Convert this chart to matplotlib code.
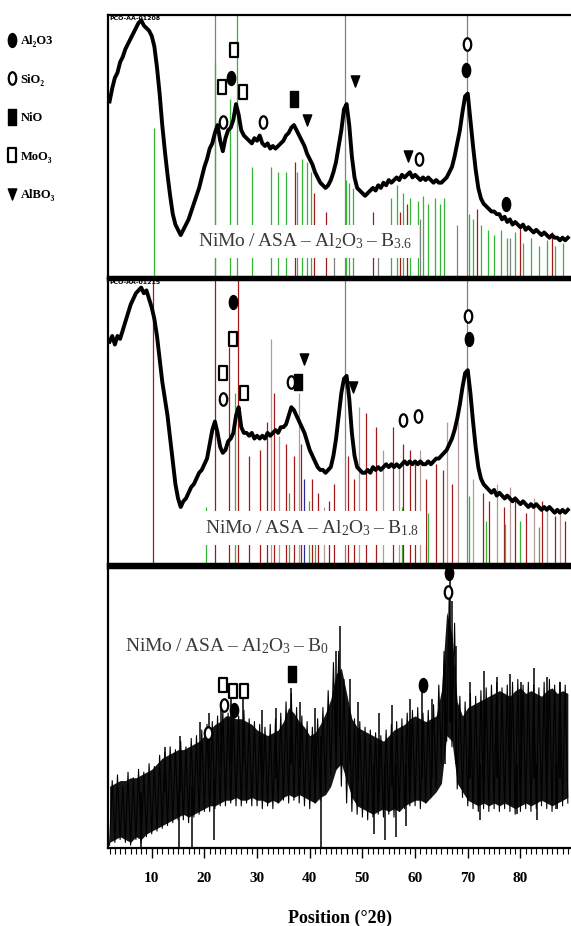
import numpy as np
import matplotlib
matplotlib.use("Agg")
import matplotlib.pyplot as plt
from matplotlib.path import Path
from matplotlib.transforms import Affine2D
from matplotlib.lines import Line2D
from matplotlib.ticker import MultipleLocator

plt.rcParams['mathtext.fontset'] = 'custom'
plt.rcParams['mathtext.rm'] = 'Liberation Serif'
plt.rcParams['mathtext.it'] = 'Liberation Serif:italic'
plt.rcParams['mathtext.bf'] = 'Liberation Serif:bold'

# ---------------- data ----------------
two_theta = np.arange(2.0, 89.01, 0.5)

intensity_b36 = [
    67, 72, 76, 78, 82, 84, 87, 89, 91, 93,
    95, 97, 98, 96, 95, 94, 92, 88, 80, 70,
    58, 48, 39, 31, 24, 20, 18, 16, 18, 20,
    22, 25, 28, 31, 34, 38, 42, 45, 49, 51,
    55, 58, 52, 48, 53, 56, 57, 60, 66, 62,
    56, 54, 53, 52, 51, 53, 52, 54, 51, 50,
    51, 49, 50, 49, 50, 51, 52, 54, 55, 57,
    58, 56, 54, 52, 50, 47, 45, 43, 40, 38,
    36, 35, 34, 35, 37, 40, 44, 50, 56, 64,
    66, 58, 46, 38, 34, 33, 32, 31, 32, 33,
    34, 33, 35, 34, 36, 35, 37, 36, 37, 38,
    37, 39, 38, 39, 40, 38, 39, 38, 37, 38,
    37, 38, 37, 36, 37, 36, 36, 37, 38, 40,
    42, 46, 51, 56, 63, 69, 70, 60, 50, 41,
    34, 30, 28, 27, 26, 25, 25, 24, 24, 22,
    23, 21, 22, 20, 21, 20, 19, 20, 18, 19,
    18, 17, 18, 17, 16, 17, 16, 15, 16, 15,
    15, 14, 15, 14, 15]

intensity_b18 = [
    78, 80, 77, 80, 79, 82, 85, 88, 91, 93,
    95, 96, 97, 95, 96, 93, 90, 86, 80, 72,
    64, 58, 52, 44, 36, 28, 23, 20, 22, 23,
    25, 27, 28, 30, 32, 33, 35, 37, 42, 47,
    50, 46, 41, 39, 40, 43, 44, 46, 52, 55,
    48, 46, 46, 45, 46, 44, 45, 44, 45, 44,
    46, 45, 46, 47, 46, 48, 48, 49, 52, 55,
    54, 52, 50, 48, 46, 43, 40, 38, 36, 34,
    33, 33, 32, 33, 34, 38, 44, 52, 60, 65,
    66, 58, 46, 38, 34, 33, 32, 32, 33, 32,
    34, 33, 34, 33, 34, 35, 34, 35, 34, 35,
    34, 35, 36, 35, 36, 35, 36, 35, 36, 35,
    35, 36, 35, 36, 37, 37, 38, 39, 40, 42,
    44, 47, 51, 56, 62, 67, 68, 60, 50, 41,
    34, 30, 28, 27, 26, 25, 26, 24, 25, 24,
    23, 24, 23, 22, 23, 22, 21, 22, 21, 20,
    21, 20, 21, 20, 19, 20, 19, 20, 19, 18,
    19, 18, 19, 18, 19]

# B0 pattern: dense noisy band (lower / upper envelope per degree) ...
two_theta_b0 = np.arange(2, 90)
b0_lower = [
    2, 3, 4, 3, 2, 4, 3, 5, 6, 7,
    8, 9, 10, 11, 12, 11, 12, 13, 14, 15,
    15, 16, 17, 17, 18, 17, 17, 18, 17, 17,
    16, 17, 16, 18, 19, 18, 19, 18, 17, 16,
    18, 19, 22, 28, 30, 24, 18, 15, 14, 13,
    12, 13, 14, 13, 14, 13, 15, 16, 17, 17,
    16, 18, 20, 23, 40, 38, 23, 20, 17, 16,
    15, 16, 15, 16, 15, 16, 15, 14, 15, 16,
    15, 16, 17, 16, 15, 16, 17, 18]
b0_upper = [
    22, 23, 24, 24, 25, 25, 26, 27, 28, 30,
    32, 33, 34, 35, 35, 36, 37, 38, 40, 42,
    44, 45, 47, 47, 46, 46, 45, 44, 42, 41,
    40, 41, 42, 45, 50, 48, 45, 43, 40, 41,
    44, 48, 53, 62, 64, 55, 46, 43, 42, 41,
    40, 39, 38, 40, 42, 43, 44, 46, 47, 46,
    45, 46, 47, 56, 84, 76, 52, 47, 50, 51,
    52, 53, 54, 55, 56, 55, 54, 56, 57, 55,
    56, 55, 54, 56, 57, 55, 56, 55]
# ... and the raw trace, read every 0.5 deg (minimum / maximum excursions)
b0_trace = [
    1, 24, 2, 26, 3, 22, 2, 27, 1, 25,
    3, 28, 2, 27, 4, 30, 5, 29, 6, 33,
    7, 34, 8, 36, 9, 35, 10, 38, 10, 36,
    9, 39, 11, 40, 12, 42, 13, 44, 13, 45,
    14, 47, 15, 49, 15, 48, 16, 50, 15, 47,
    15, 49, 16, 46, 15, 45, 15, 44, 14, 43,
    15, 44, 14, 46, 16, 48, 17, 52, 16, 55,
    17, 50, 16, 47, 15, 45, 14, 43, 16, 46,
    17, 50, 20, 56, 26, 66, 28, 70, 22, 60,
    16, 50, 13, 46, 12, 45, 11, 43, 10, 42,
    11, 41, 12, 40, 11, 42, 12, 44, 11, 45,
    13, 46, 14, 48, 15, 49, 15, 50, 14, 48,
    16, 49, 18, 51, 21, 58, 30, 70, 38, 92,
    36, 80, 21, 54, 18, 52, 15, 55, 14, 54,
    13, 56, 14, 57, 13, 58, 14, 59, 13, 57,
    14, 58, 13, 59, 12, 60, 13, 58, 14, 59,
    13, 58, 14, 57, 15, 59, 14, 60, 13, 58,
    14, 59, 15, 58, 16]
b0_spike_pos = [12.5, 15.3, 19.2, 20.8, 23.1, 25.0, 27.3, 31.0, 33.5, 36.4,
                38.2, 41.0, 44.9, 45.7, 47.6, 49.2, 53.1, 55.6, 59.1, 61.3,
                63.2, 65.6, 66.6, 67.1, 67.7, 70.5, 73.0, 75.6, 78.1, 80.2,
                82.6, 85.1, 87.6,
                8.0, 15.1, 17.7, 21.8, 42.1, 52.2, 54.3, 56.4, 58.2, 72.3,
                79.4, 83.2, 86.7]
b0_spike_low = [20, 20, 25, 28, 30, 30, 30, 25, 25, 30,
                28, 25, 35, 40, 30, 25, 20, 22, 25, 25,
                25, 30, 45, 40, 30, 25, 25, 25, 25, 25,
                25, 25, 25,
                0, 0, 0, 3, 0, 5, 3, 4, 8, 10,
                12, 10, 14]
b0_spike_high = [36, 40, 45, 48, 52, 54, 54, 49, 50, 57,
                 52, 50, 70, 79, 60, 52, 48, 51, 53, 57,
                 53, 66, 96, 88, 72, 59, 63, 61, 62, 59,
                 64, 61, 59,
                 20, 20, 22, 25, 40, 30, 30, 30, 30, 30,
                 30, 30, 30]

# reference pattern sticks (position, height, colour code)
sticks_b36_pos = [10.4, 22.0, 22.0, 24.8, 26.2, 29.1, 32.7, 33.9, 35.4, 37.2,
                  37.6, 38.6, 39.4, 40.2, 40.9, 43.0, 44.6, 46.7, 46.9, 47.5,
                  48.2, 52.0, 53.0, 55.5, 56.6, 57.2, 57.8, 58.5, 59.0, 60.5,
                  61.0, 61.5, 62.4, 63.8, 64.8, 65.5, 68.0, 69.8, 70.2, 70.9,
                  71.8, 72.5, 73.8, 75.0, 76.3, 77.5, 78.0, 79.0, 80.0, 80.5,
                  82.0, 83.5, 85.0, 86.0, 86.5, 88.0]
sticks_b36_height = [57, 100, 82, 68, 100, 42, 42, 40, 40, 44,
                     40, 45, 44, 40, 32, 25, 15, 100, 37, 36,
                     34, 25, 20, 30, 35, 25, 32, 28, 30, 29,
                     22, 31, 28, 30, 28, 30, 20, 100, 24, 22,
                     26, 20, 18, 16, 18, 15, 15, 17, 20, 13,
                     15, 12, 14, 17, 12, 13]
sticks_b36_kind = ['g', 'k', 'g', 'g', 'g', 'g', 'g', 'g', 'g', 'r',
                   'k', 'g', 'g', 'g', 'r', 'r', 'k', 'k', 'g', 'g',
                   'g', 'r', 'k', 'g', 'g', 'r', 'g', 'r', 'g', 'g',
                   'k', 'g', 'g', 'g', 'g', 'g', 'k', 'k', 'g', 'g',
                   'r', 'g', 'g', 'g', 'g', 'g', 'k', 'g', 'r', 'g',
                   'g', 'g', 'g', 'r', 'g', 'g']

sticks_b18_pos = [10.2, 20.4, 22.0, 24.7, 25.9, 26.4, 28.5, 30.5, 31.8, 32.6,
                  33.3, 34.2, 35.5, 36.0, 37.0, 38.0, 38.3, 39.0, 39.8, 40.5,
                  41.0, 41.5, 42.8, 43.6, 44.6, 46.7, 47.2, 48.4, 49.4, 50.6,
                  52.5, 54.0, 55.8, 56.9, 57.5, 57.8, 59.0, 60.0, 61.0, 62.0,
                  62.5, 64.0, 65.3, 66.0, 67.0, 68.2, 69.8, 70.2, 71.0, 72.8,
                  73.5, 74.0, 75.5, 76.8, 77.0, 78.0, 79.0, 80.0, 81.0, 82.5,
                  83.5, 84.0, 85.0, 86.5, 87.6, 88.5]
sticks_b18_height = [100, 20, 100, 76, 60, 100, 38, 40, 50, 79,
                     60, 45, 42, 25, 38, 60, 42, 30, 22, 30,
                     18, 25, 20, 22, 28, 100, 38, 30, 55, 53,
                     48, 40, 48, 35, 20, 42, 40, 35, 40, 30,
                     18, 35, 33, 50, 28, 50, 100, 24, 30, 25,
                     15, 22, 28, 20, 14, 27, 24, 15, 18, 23,
                     13, 22, 20, 17, 18, 15]
sticks_b18_kind = ['r', 'g', 'r', 'r', 'g', 'r', 'r', 'r', 'r', 'p',
                   'r', 'p', 'r', 'g', 'r', 'p', 'r', 'b', 'g', 'r',
                   'g', 'r', 'p', 'r', 'r', 'k', 'r', 'r', 'p', 'r',
                   'r', 'p', 'r', 'p', 'g', 'r', 'r', 'r', 'p', 'r',
                   'g', 'r', 'r', 'p', 'r', 'p', 'k', 'g', 'p', 'r',
                   'g', 'r', 'p', 'r', 'g', 'p', 'r', 'g', 'r', 'p',
                   'g', 'r', 'p', 'r', 'p', 'r']

# phase markers
markers_b36_phase = ['MoO3', 'Al2O3', 'MoO3', 'MoO3', 'SiO2', 'SiO2', 'NiO',
                     'AlBO3', 'AlBO3', 'AlBO3', 'SiO2', 'SiO2', 'Al2O3', 'Al2O3']
markers_b36_x = [25.6, 25.0, 23.3, 27.3, 23.5, 31.1, 37.0, 39.5, 48.6, 58.6,
                 60.7, 69.8, 69.6, 77.2]
markers_b36_y = [86.6, 76, 72.5, 70.6, 59, 59, 68, 60, 75, 46, 45, 89, 79, 28]

markers_b18_phase = ['Al2O3', 'MoO3', 'MoO3', 'SiO2', 'MoO3', 'SiO2', 'NiO',
                     'AlBO3', 'AlBO3', 'SiO2', 'SiO2', 'SiO2', 'Al2O3']
markers_b18_x = [25.4, 25.4, 23.5, 23.5, 27.5, 36.4, 37.8, 38.9, 48.2, 57.7,
                 60.5, 70.0, 70.2]
markers_b18_y = [92, 79, 67, 58, 60, 64, 64, 72, 62, 50.5, 52, 87, 79]

markers_b0_phase = ['Al2O3', 'SiO2', 'NiO', 'Al2O3', 'MoO3', 'MoO3', 'MoO3',
                    'SiO2', 'Al2O3', 'SiO2']
markers_b0_x = [66.4, 66.2, 36.6, 61.5, 23.5, 25.4, 27.5, 23.7, 25.6, 20.7]
markers_b0_y = [98, 91, 62, 58, 58, 56, 56, 51, 49, 41]

phases = ['Al2O3', 'SiO2', 'NiO', 'MoO3', 'AlBO3']
phase_labels = ['Al₂O3', 'SiO₂', 'NiO', 'MoO₃', 'AlBO₃']
xtick_values = [10, 20, 30, 40, 50, 60, 70, 80]
sample_labels = ['NiMo\u2009/\u2009ASA\u2009–\u2009Al$_2$O$_3$\u2009–\u2009B$_{3.6}$',
                 'NiMo\u2009/\u2009ASA\u2009–\u2009Al$_2$O$_3$\u2009–\u2009B$_{1.8}$',
                 'NiMo\u2009/\u2009ASA\u2009–\u2009Al$_2$O$_3$\u2009–\u2009B$_0$']

# ---------------- styles ----------------
ellipse = Path.unit_circle().transformed(Affine2D().scale(0.6, 1.0))
rect_open = Path([(-0.33, -0.5), (0.33, -0.5), (0.33, 0.5), (-0.33, 0.5), (-0.33, -0.5)],
                 [Path.MOVETO, Path.LINETO, Path.LINETO, Path.LINETO, Path.CLOSEPOLY])
rect_fill = Path([(-0.25, -0.5), (0.25, -0.5), (0.25, 0.5), (-0.25, 0.5), (-0.25, -0.5)],
                 [Path.MOVETO, Path.LINETO, Path.LINETO, Path.LINETO, Path.CLOSEPOLY])
tri = Path([(-0.38, 0.5), (0.38, 0.5), (0.0, -0.5), (-0.38, 0.5)],
           [Path.MOVETO, Path.LINETO, Path.LINETO, Path.CLOSEPOLY])

marker_style = {
    'Al2O3': dict(marker=ellipse, ms=10, mfc='black', mec='black', mew=1.0),
    'SiO2': dict(marker=ellipse, ms=9, mfc='white', mec='black', mew=1.6),
    'NiO': dict(marker=rect_fill, ms=11, mfc='black', mec='black', mew=1.0),
    'MoO3': dict(marker=rect_open, ms=9.5, mfc='white', mec='black', mew=1.6),
    'AlBO3': dict(marker=tri, ms=8, mfc='black', mec='black', mew=1.0),
}
stick_colors = {'g': '#35b535', 'r': '#a31818', 'k': '#808080',
                'p': '#b59a9a', 'b': '#2a2a9a'}

serif = ['Liberation Serif', 'DejaVu Serif']

fig = plt.figure(figsize=(5.71, 9.26), dpi=100)
left = 108 / 571
width = 1.0 - left
ax_top = fig.add_axes([left, 1 - 277 / 926, width, 262 / 926])
ax_mid = fig.add_axes([left, 1 - 564 / 926, width, 285 / 926])
ax_bot = fig.add_axes([left, 1 - 848 / 926, width, 281 / 926])

for ax in (ax_top, ax_mid, ax_bot):
    ax.set_xlim(1.7, 89.6)
    ax.set_ylim(0, 100)
    ax.set_yticks([])
    for side in ('left', 'top', 'bottom'):
        ax.spines[side].set_linewidth(1.6)
    ax.spines['right'].set_visible(False)
    ax.xaxis.set_major_locator(MultipleLocator(10))
    ax.xaxis.set_minor_locator(MultipleLocator(1))

for ax in (ax_top, ax_mid):
    ax.tick_params(axis='x', which='both', length=0, labelbottom=False)
ax_top.spines['bottom'].set_linewidth(2.5)
ax_mid.spines['bottom'].set_linewidth(2.5)
ax_mid.spines['top'].set_linewidth(2.5)
ax_bot.spines['top'].set_linewidth(2.5)

def draw_sticks(ax, pos, height, kind):
    ax.vlines(pos, 0, height, colors=[stick_colors[k] for k in kind],
              linewidth=0.9, zorder=1)

def draw_markers(ax, ph, xs, ys):
    for p, x, y in zip(ph, xs, ys):
        ax.plot([x], [y], linestyle='none', zorder=5, clip_on=False, **marker_style[p])

label_kw = dict(fontsize=14, color='#3a3a3a', family=serif, zorder=2)

# top panel: B3.6
draw_sticks(ax_top, sticks_b36_pos, sticks_b36_height, sticks_b36_kind)
ax_top.text(18.7, 13.5, sample_labels[0], va='center', ha='left',
            bbox=dict(facecolor='white', edgecolor='none', pad=5), **label_kw)
ax_top.plot(two_theta, intensity_b36, color='black', linewidth=2.8, zorder=3)
draw_markers(ax_top, markers_b36_phase, markers_b36_x, markers_b36_y)
ax_top.text(0.004, 0.995, 'PCO-AA-01208', transform=ax_top.transAxes, fontsize=4.5,
            fontweight='bold', va='top', ha='left', zorder=6)

# middle panel: B1.8
draw_sticks(ax_mid, sticks_b18_pos, sticks_b18_height, sticks_b18_kind)
ax_mid.text(20.2, 12.7, sample_labels[1], va='center', ha='left',
            bbox=dict(facecolor='white', edgecolor='none', pad=5), **label_kw)
ax_mid.plot(two_theta, intensity_b18, color='black', linewidth=2.8, zorder=3)
draw_markers(ax_mid, markers_b18_phase, markers_b18_x, markers_b18_y)
ax_mid.text(0.004, 0.995, 'PCO-AA-01215', transform=ax_mid.transAxes, fontsize=4.5,
            fontweight='bold', va='top', ha='left', zorder=6)

# bottom panel: B0
ax_bot.fill_between(two_theta_b0, b0_lower, b0_upper, color='#151515', linewidth=0, zorder=3)
ax_bot.plot(two_theta, b0_trace, color='black', linewidth=0.8, zorder=3)
ax_bot.vlines(b0_spike_pos, b0_spike_low, b0_spike_high, colors='black', linewidth=1.1, zorder=3)
ax_bot.text(4.9, 72, sample_labels[2], va='center', ha='left', **label_kw)
draw_markers(ax_bot, markers_b0_phase, markers_b0_x, markers_b0_y)

ax_bot.set_xticks(xtick_values)
ax_bot.set_xticklabels([str(v) for v in xtick_values], family=serif, fontweight='bold', fontsize=11)
ax_bot.tick_params(axis='x', which='major', length=7, width=1.0, direction='out', pad=10)
ax_bot.tick_params(axis='x', which='minor', length=4, width=0.8, direction='out')
ax_bot.set_xlabel('Position (°2θ)', family=serif, fontweight='bold', fontsize=13, labelpad=18)

# phase legend
handles = [Line2D([], [], linestyle='none', **marker_style[p]) for p in phases]
fig.legend(handles, phase_labels, loc='upper left', bbox_to_anchor=(0.012, 0.962),
           frameon=False, prop=dict(family=serif, weight='bold', size=9),
           labelspacing=2.12, handlelength=0.8, handletextpad=0.3,
           borderpad=0, borderaxespad=0)

fig.savefig('out.png', dpi=100, facecolor='white')
